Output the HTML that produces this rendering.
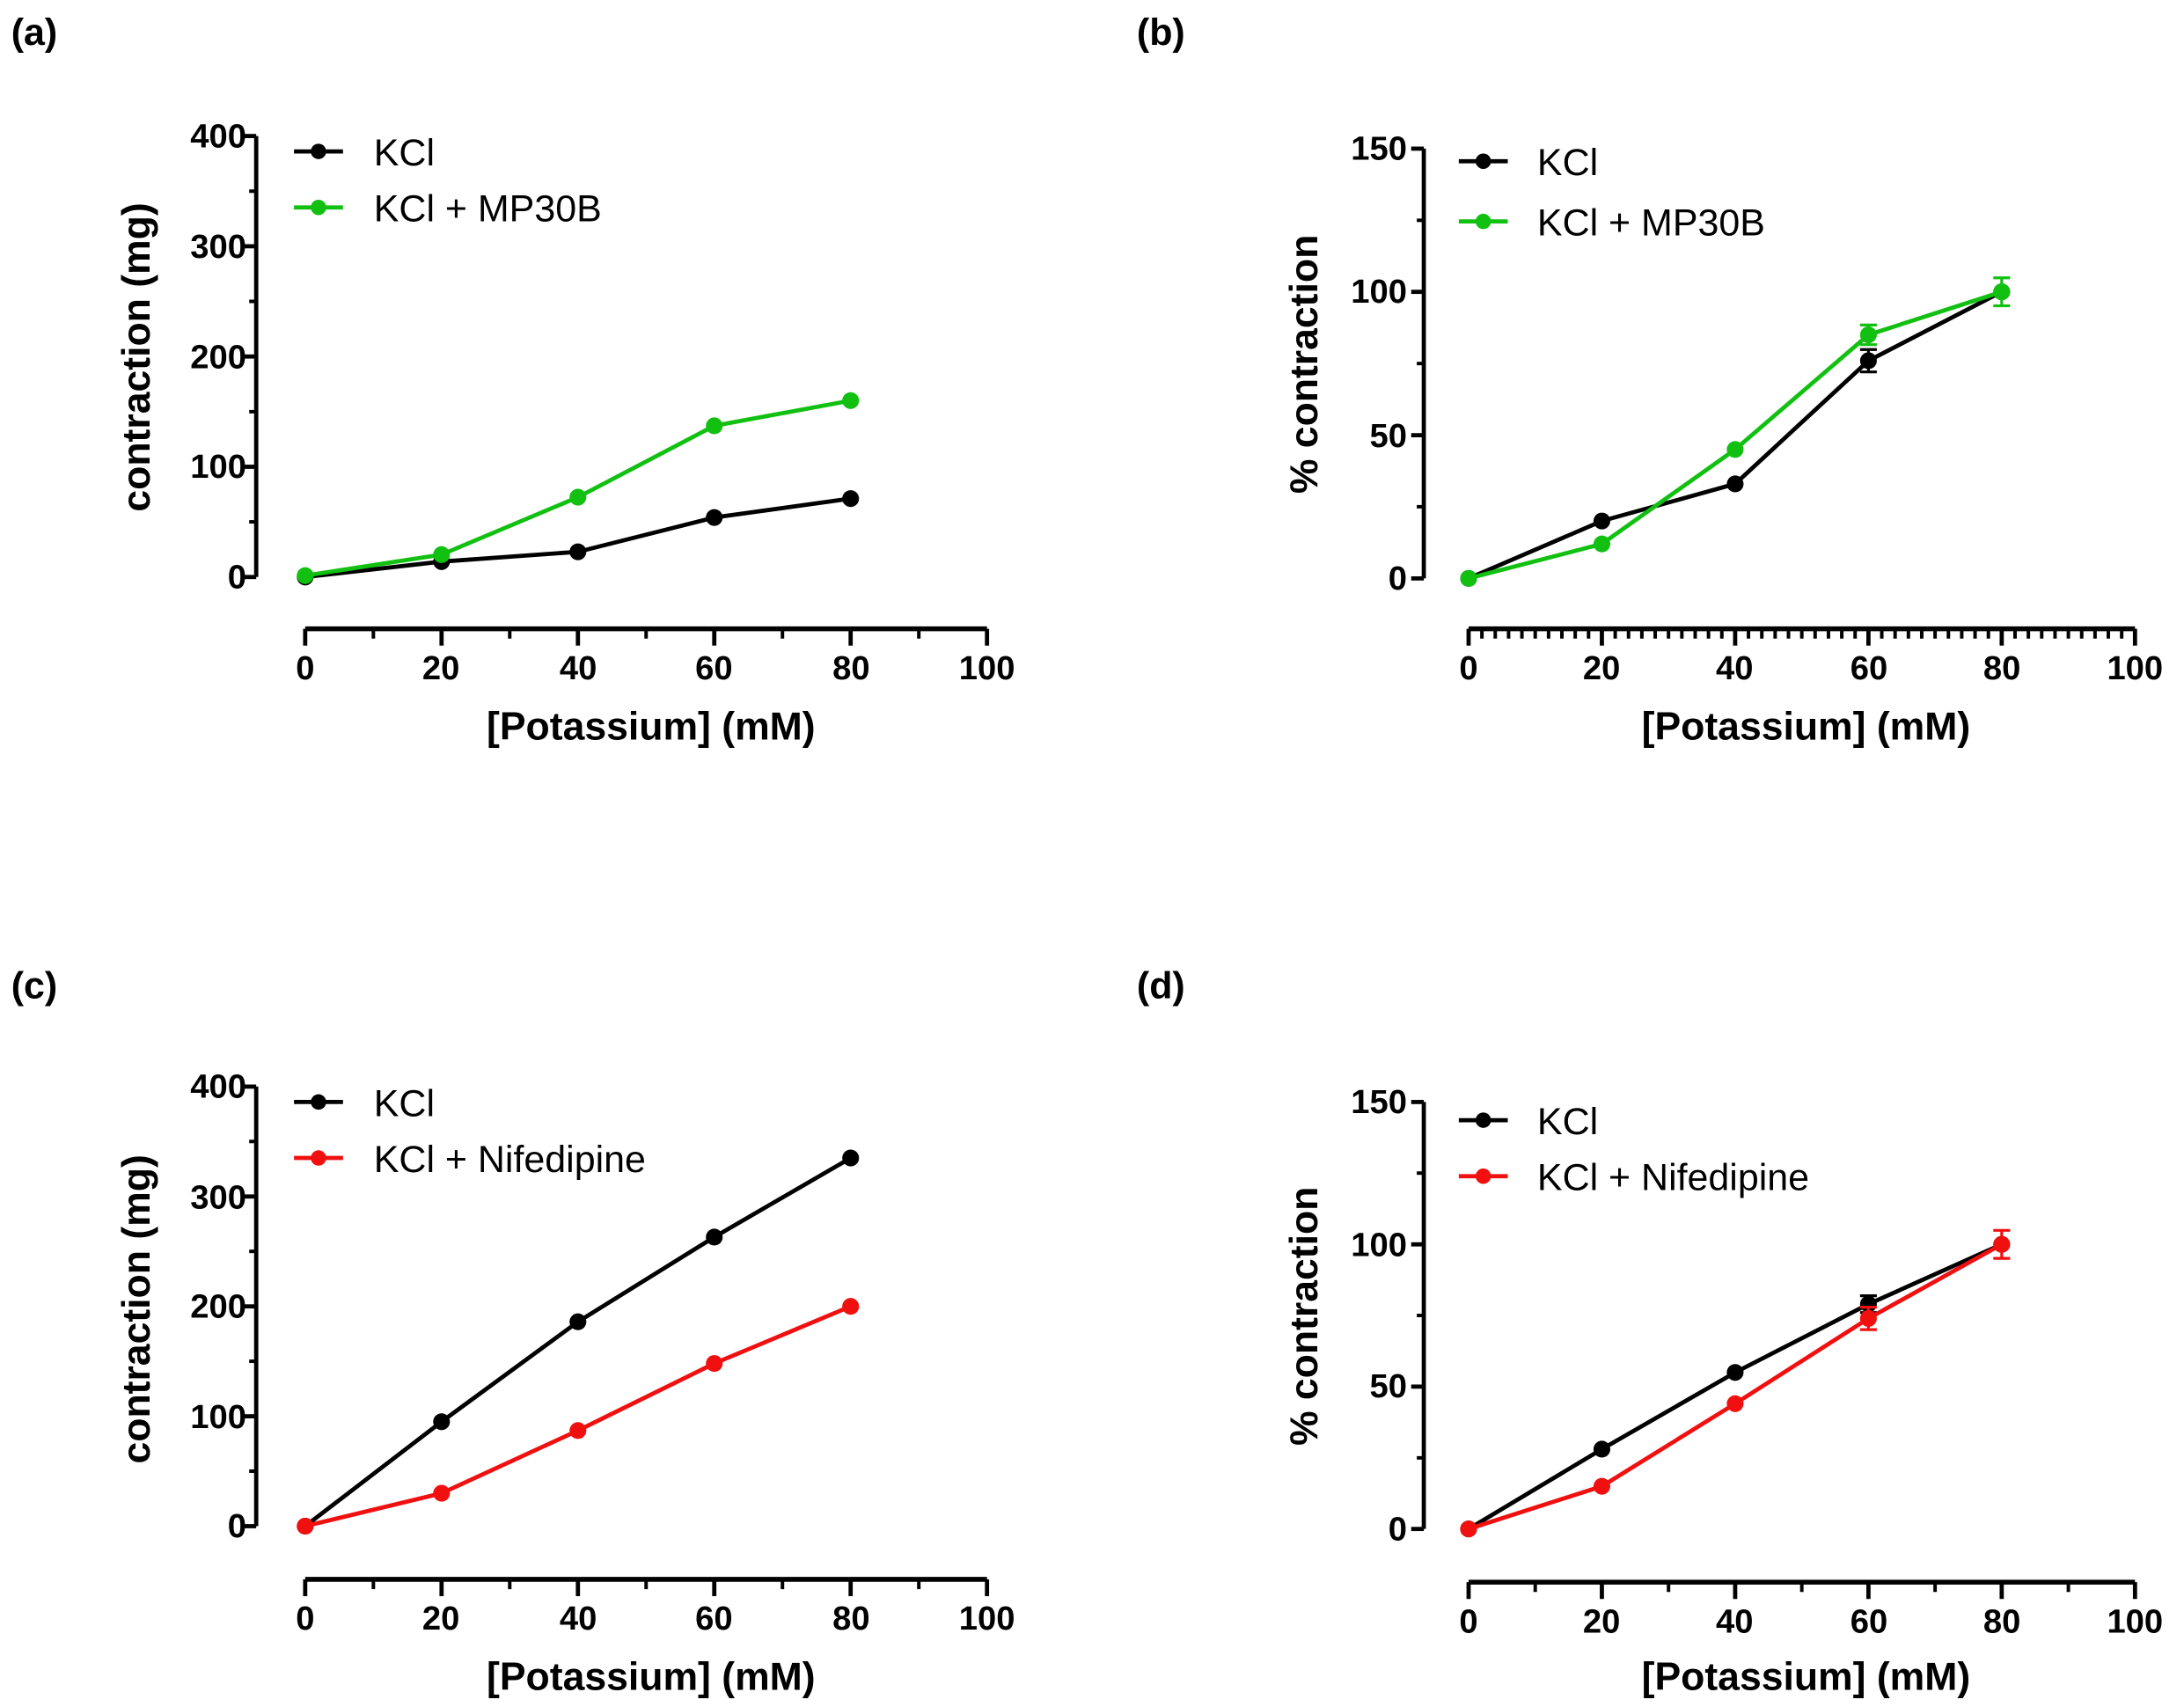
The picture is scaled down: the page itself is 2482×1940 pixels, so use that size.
<!DOCTYPE html>
<html><head><meta charset="utf-8"><style>
html,body{margin:0;padding:0;background:#fff;}
svg{display:block;}
text{font-family:"Liberation Sans Narrow","Liberation Sans",sans-serif;font-weight:bold;fill:#000;}
.lg text{font-weight:normal;font-size:27px;font-family:"Liberation Sans",sans-serif;}
.tk text{font-size:24px;}
.ti text{font-size:28px;font-family:"Liberation Sans",sans-serif;}
.pl{font-size:27px;font-family:"Liberation Sans",sans-serif;}
</style></head><body>
<svg id="s" width="2482" height="1940" viewBox="0 0 1560 1219" xmlns="http://www.w3.org/2000/svg">
<rect width="1560" height="1219" fill="#fff"/>
<g id="g"></g>
<text class="pl" x="8" y="32">(a)</text>
<text class="pl" x="812" y="32">(b)</text>
<text class="pl" x="8" y="713">(c)</text>
<text class="pl" x="812" y="713">(d)</text>
<g class="tk" text-anchor="end">
<text x="176" y="105">400</text><text x="176" y="184">300</text><text x="176" y="263">200</text><text x="176" y="341">100</text><text x="176" y="420">0</text>
<text x="1005" y="114">150</text><text x="1005" y="216">100</text><text x="1005" y="319">50</text><text x="1005" y="421">0</text>
<text x="176" y="784">400</text><text x="176" y="863">300</text><text x="176" y="941">200</text><text x="176" y="1020">100</text><text x="176" y="1098">0</text>
<text x="1005" y="795">150</text><text x="1005" y="897">100</text><text x="1005" y="998">50</text><text x="1005" y="1100">0</text>
</g>
<g class="tk" text-anchor="middle">
<text x="218" y="485">0</text><text x="315" y="485">20</text><text x="413" y="485">40</text><text x="510" y="485">60</text><text x="608" y="485">80</text><text x="705" y="485">100</text>
<text x="1049" y="485">0</text><text x="1144" y="485">20</text><text x="1239" y="485">40</text><text x="1335" y="485">60</text><text x="1430" y="485">80</text><text x="1525" y="485">100</text>
<text x="218" y="1164">0</text><text x="315" y="1164">20</text><text x="413" y="1164">40</text><text x="510" y="1164">60</text><text x="608" y="1164">80</text><text x="705" y="1164">100</text>
<text x="1049" y="1166">0</text><text x="1144" y="1166">20</text><text x="1239" y="1166">40</text><text x="1335" y="1166">60</text><text x="1430" y="1166">80</text><text x="1525" y="1166">100</text>
</g>
<g class="ti" text-anchor="middle">
<text x="465" y="528">[Potassium] (mM)</text>
<text x="1290" y="528">[Potassium] (mM)</text>
<text x="465" y="1207">[Potassium] (mM)</text>
<text x="1290" y="1207">[Potassium] (mM)</text>
<text transform="translate(107,255) rotate(-90)">contraction (mg)</text>
<text transform="translate(941,260) rotate(-90)">% contraction</text>
<text transform="translate(107,935) rotate(-90)">contraction (mg)</text>
<text transform="translate(941,940) rotate(-90)">% contraction</text>
</g>
<g class="lg">
<text x="267" y="118">KCl</text><text x="267" y="158">KCl + MP30B</text>
<text x="1098" y="125">KCl</text><text x="1098" y="168">KCl + MP30B</text>
<text x="267" y="797">KCl</text><text x="267" y="837">KCl + Nifedipine</text>
<text x="1098" y="810">KCl</text><text x="1098" y="850">KCl + Nifedipine</text>
</g>
</svg>
<script>
var g=document.getElementById('g'),NS='http://www.w3.org/2000/svg';
function el(t,a){var e=document.createElementNS(NS,t);for(var k in a)e.setAttribute(k,a[k]);g.appendChild(e);return e;}
function line(x1,y1,x2,y2,w,c){el('line',{x1:x1,y1:y1,x2:x2,y2:y2,stroke:c||'#000','stroke-width':w||3});}
function panel(p){
 line(p.ax,p.yTop,p.ax,p.y0,3);
 p.yt.forEach(function(y){line(p.ax-9,y,p.ax,y,3);});
 p.ym.forEach(function(y){line(p.ax-5,y,p.ax,y,2.5);});
 line(p.x0,p.xa,p.x1,p.xa,3.5);
 var n=p.minor;
 for(var v=0;v<=100;v+=n){var x=p.x0+(p.x1-p.x0)*v/100;
  if(v%20==0)line(x,p.xa,x,p.xa+12,3);else line(x,p.xa,x,p.xa+7,2.5);}
 p.leg.forEach(function(l){line(p.lx0,l[0],p.lx1,l[0],3,l[1]);el('circle',{cx:(p.lx0+p.lx1)/2,cy:l[0],r:5.5,fill:l[1]});});
 p.ser.forEach(function(s){
  var xs=[0,20,40,60,80].map(function(v){return p.x0+(p.x1-p.x0)*v/100;});
  var pts=xs.map(function(x,i){return x+','+s.y[i];}).join(' ');
  el('polyline',{points:pts,fill:'none',stroke:s.c,'stroke-width':3});
  (s.e||[]).forEach(function(e){var x=xs[e[0]],y=s.y[e[0]];line(x,y-e[1],x,y+e[1],2,s.c);line(x-6,y-e[1],x+6,y-e[1],2,s.c);line(x-6,y+e[1],x+6,y+e[1],2,s.c);});
  xs.forEach(function(x,i){el('circle',{cx:x,cy:s.y[i],r:6,fill:s.c});});
 });
}
var G='#11c011',R='#f01010',K='#000';
panel({ax:183,yTop:97,y0:412,yt:[97,175.75,254.5,333.25,412],ym:[136.4,215.1,293.9,372.6],x0:218,x1:705,xa:449,minor:10,
 lx0:210,lx1:245,leg:[[108,K],[148,G]],
 ser:[{c:K,y:[412,401,394,369.5,356]},{c:G,y:[411,396,355,304,286]}]});
panel({ax:1017,yTop:106,y0:413,yt:[106,208.3,310.7,413],ym:[157.2,259.5,361.8],x0:1049,x1:1525,xa:449,minor:2,
 lx0:1042,lx1:1077,leg:[[115,K],[158,G]],
 ser:[{c:K,y:[413,372,345.5,257.5,208.3],e:[[3,8]]},{c:G,y:[413,388.4,320.9,239,208.3],e:[[3,7],[4,10]]}]});
panel({ax:183,yTop:776,y0:1090,yt:[776,854.5,933,1011.5,1090],ym:[815.2,893.7,972.2,1050.7],x0:218,x1:705,xa:1128,minor:10,
 lx0:210,lx1:245,leg:[[787,K],[827,R]],
 ser:[{c:K,y:[1090,1015.4,944,883.5,827]},{c:R,y:[1090,1066.5,1021.7,973.8,933]}]});
panel({ax:1017,yTop:787,y0:1092,yt:[787,888.7,990.3,1092],ym:[837.8,939.5,1041.2],x0:1049,x1:1525,xa:1130,minor:10,
 lx0:1042,lx1:1077,leg:[[800,K],[840,R]],
 ser:[{c:K,y:[1092,1035,980.2,931.4,888.7],e:[[3,6]]},{c:R,y:[1092,1061.5,1002.5,941.6,888.7],e:[[3,8],[4,10]]}]});
</script>
</body></html>
